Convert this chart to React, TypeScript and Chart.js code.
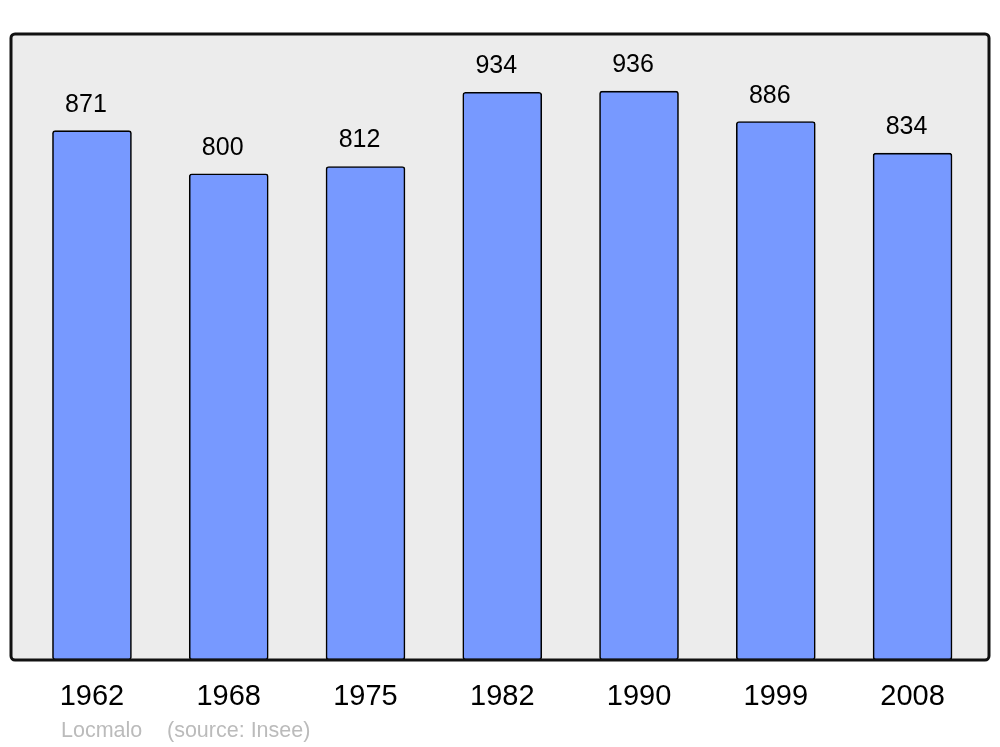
import React, { useEffect, useRef } from "react";
import { Chart, registerables } from "chart.js";

Chart.register(...registerables);

const years: string[] = ["1962", "1968", "1975", "1982", "1990", "1999", "2008"];
const population: number[] = [871, 800, 812, 934, 936, 886, 834];
const footerAuthor = "Locmalo";
const footerSource = "(source: Insee)";

const FONT = "'Liberation Sans', Arial, sans-serif";

const framePlugin = {
  id: "frame",
  beforeDraw(chart: any) {
    const { ctx, chartArea: a } = chart;
    ctx.save();
    ctx.fillStyle = "#ececec";
    ctx.beginPath();
    ctx.roundRect(a.left, a.top, a.right - a.left, a.bottom - a.top, 4);
    ctx.fill();
    ctx.restore();
  },
  afterDatasetsDraw(chart: any) {
    const { ctx, chartArea: a } = chart;
    ctx.save();
    ctx.strokeStyle = "#111";
    ctx.lineWidth = 3;
    ctx.beginPath();
    ctx.roundRect(a.left, a.top, a.right - a.left, a.bottom - a.top, 4);
    ctx.stroke();
    // value labels
    const meta = chart.getDatasetMeta(0);
    ctx.fillStyle = "#000";
    ctx.font = `25px ${FONT}`;
    ctx.textAlign = "center";
    ctx.textBaseline = "alphabetic";
    meta.data.forEach((bar: any, i: number) => {
      ctx.fillText(String(population[i]), bar.x - 6, bar.y - 19);
    });
    // footer
    ctx.fillStyle = "#bbbbbb";
    ctx.font = `21.5px ${FONT}`;
    ctx.textAlign = "left";
    ctx.fillText(footerAuthor, 61, 737);
    ctx.fillText(footerSource, 167, 737);
    ctx.restore();
  },
};

export default function App() {
  const ref = useRef<HTMLCanvasElement | null>(null);
  useEffect(() => {
    if (!ref.current) return;
    const chart = new Chart(ref.current, {
      type: "bar",
      data: {
        datasets: [
          {
            data: population.map((v, i) => ({ x: i, y: v })),
            backgroundColor: "#7799ff",
            borderColor: "#000",
            borderWidth: 1.6,
            borderRadius: 3,
            borderSkipped: false,
            barThickness: 79,
          },
        ],
      },
      options: {
        animation: false,
        responsive: false,
        layout: { padding: { left: 11, right: 11, top: 34, bottom: 0 } },
        plugins: { legend: { display: false }, tooltip: { enabled: false } },
        scales: {
          x: {
            type: "linear",
            offset: false,
            min: -0.592,
            max: 6.559,
            grid: { display: false, drawTicks: false, offset: false },
            border: { display: false },
            afterFit(scale: any) {
              scale.height = 87;
            },
            afterBuildTicks(scale: any) {
              scale.ticks = years.map((_, i) => ({ value: i }));
            },
            ticks: {
              autoSkip: false,
              maxRotation: 0,
              padding: 20,
              color: "#000",
              font: { size: 29, family: FONT },
              callback: (v: any) => years[v] ?? "",
            },
          },
          y: { display: false, min: 0, max: 1030 },
        },
      },
      plugins: [framePlugin],
    });
    return () => chart.destroy();
  }, []);
  return (
    <div style={{ position: "absolute", left: 0, top: 0, width: 1000, height: 747, background: "#fff" }}>
      <canvas ref={ref} width={1000} height={747} />
    </div>
  );
}
